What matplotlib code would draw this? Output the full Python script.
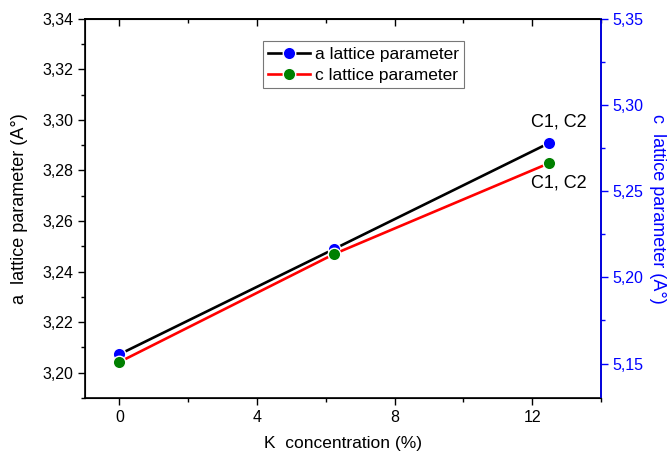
import numpy as np
import matplotlib
matplotlib.use("Agg")
import matplotlib.pyplot as plt
from matplotlib.ticker import FuncFormatter, MultipleLocator

plt.rcParams['font.family'] = ['Liberation Sans', 'DejaVu Sans']

# data
k_conc = [0, 6.25, 12.5]
a_param = [3.2073, 3.249, 3.2909]
c_param = [5.1509, 5.2136, 5.2663]
point_labels = ["", "", "C1, C2"]

def comma_fmt(digits):
    return FuncFormatter(lambda v, p: f"{v:.{digits}f}".replace(".", ","))

fig = plt.figure(figsize=(6.72, 4.57), dpi=100)
ax = fig.add_subplot(111)
fig.subplots_adjust(left=0.1265, right=0.8943, top=0.959, bottom=0.129)
ax2 = ax.twinx()

la, = ax.plot(k_conc, a_param, '-', color='black', lw=1.9, marker='o', ms=9,
              mfc='blue', mec='white', mew=1.0, label='a lattice parameter', zorder=3)
lc, = ax2.plot(k_conc, c_param, '-', color='red', lw=1.9, marker='o', ms=9,
               mfc='green', mec='white', mew=1.0, label='c lattice parameter', zorder=3)

for x, y, t in zip(k_conc, a_param, point_labels):
    if t:
        ax.annotate(t, (x, y), xytext=(7, 9), textcoords='offset points',
                    ha='center', va='bottom', fontsize=13)
for x, y, t in zip(k_conc, c_param, point_labels):
    if t:
        ax2.annotate(t, (x, y), xytext=(7, -8), textcoords='offset points',
                     ha='center', va='top', fontsize=13)

ax.set_xlim(-1, 14)
ax.set_ylim(3.19, 3.34)
ax2.set_ylim(5.13, 5.35)

ax.xaxis.set_major_locator(MultipleLocator(4))
ax.xaxis.set_minor_locator(MultipleLocator(2))
ax.yaxis.set_major_locator(MultipleLocator(0.02))
ax.yaxis.set_minor_locator(MultipleLocator(0.01))
ax2.yaxis.set_major_locator(MultipleLocator(0.05))
ax2.yaxis.set_minor_locator(MultipleLocator(0.025))
ax.yaxis.set_major_formatter(comma_fmt(2))
ax2.yaxis.set_major_formatter(comma_fmt(2))

ax.tick_params(axis='both', which='major', direction='out', length=5, width=1, labelsize=11.5)
ax.tick_params(axis='both', which='minor', direction='out', length=3, width=1)
ax2.tick_params(axis='y', which='major', direction='out', length=5, width=1,
                colors='blue', labelsize=11.5)
ax2.tick_params(axis='y', which='minor', direction='out', length=3, width=1, colors='blue')

# top axis: inward ticks, no labels
top = ax.secondary_xaxis('top')
top.xaxis.set_major_locator(MultipleLocator(4))
top.xaxis.set_minor_locator(MultipleLocator(2))
top.tick_params(which='major', direction='in', length=5, width=1, labeltop=False)
top.tick_params(which='minor', direction='in', length=3, width=1)
top.spines['top'].set_linewidth(1.2)

for sp in ax.spines.values():
    sp.set_linewidth(1.2)
ax2.spines['right'].set_color('blue')
ax2.spines['right'].set_linewidth(1.2)

ax.set_xlabel("K  concentration (%)", fontsize=12.5, labelpad=8)
ax.set_ylabel("a  lattice parameter (A°)", fontsize=13, labelpad=10)
ax2.set_ylabel("c  lattice parameter (A°)", fontsize=13, color='blue',
               rotation=270, labelpad=16)

leg = ax.legend(handles=[la, lc], loc='upper center', bbox_to_anchor=(0.54, 0.94),
                fontsize=12.5, frameon=True, fancybox=False, edgecolor='#555555',
                borderpad=0.3, handlelength=2.4, handletextpad=0.3, labelspacing=0.35,
                borderaxespad=0)
leg.get_frame().set_linewidth(0.8)
leg.set_zorder(5)

fig.savefig("out.png", dpi=100)
